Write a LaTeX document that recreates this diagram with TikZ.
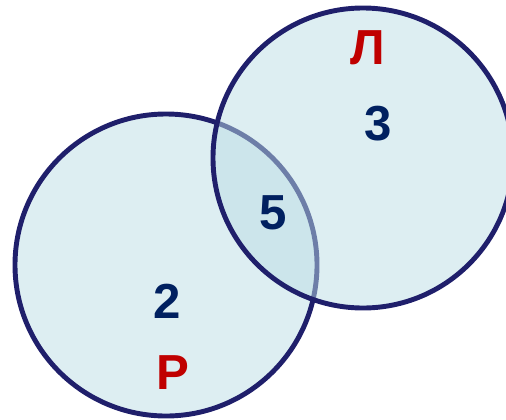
\documentclass[tikz,border=0pt]{standalone}
\usepackage{fontspec}
\setmainfont{Liberation Sans}
\definecolor{vienxanh}{RGB}{31,31,107}
\definecolor{nenxanh}{RGB}{187,221,229}
\definecolor{chudo}{RGB}{192,0,0}
\definecolor{soxanh}{RGB}{0,32,96}

\begin{document}
\begin{tikzpicture}[x=0.02cm,y=-0.02cm, node font=\bfseries\fontsize{28}{30}\selectfont]
				\useasboundingbox (0,0) rectangle (506,419);
				\clip (0,0) rectangle (506,419);
				\tikzset{vong/.style={draw=vienxanh, line width=2.8pt, fill=nenxanh, fill opacity=0.5}}
				\filldraw[vong] (166,265) circle (151);
				\filldraw[vong] (363,158) circle (150);
				\node[inner sep=0, chudo] (chuL) at (368,48) {Л};
				\node[inner sep=0, soxanh] (soba) at (378,124) {3};
				\node[inner sep=0, soxanh] (sonam) at (273,213) {5};
				\node[inner sep=0, soxanh] (sohai) at (167,301) {2};
				\node[inner sep=0, chudo] (chuR) at (173,373) {Р};
			\end{tikzpicture}
\end{document}
